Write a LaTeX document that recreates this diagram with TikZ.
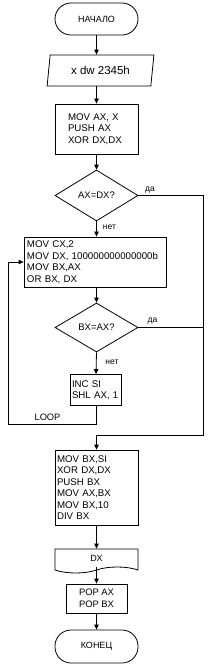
\documentclass[tikz,border=0pt]{standalone}
\usepackage{fontspec}
\setmainfont{Liberation Sans}
\usetikzlibrary{arrows.meta, shapes.geometric, shapes.symbols, positioning}

\tikzset{
  base/.style={draw, line width=0.8pt, font=\fontsize{9.7}{11.5}\selectfont, inner sep=0pt},
  term/.style={base, rectangle, rounded corners=16pt, minimum width=83pt, minimum height=32pt,
    font=\fontsize{9}{11}\selectfont},
  iobox/.style={base, trapezium, trapezium left angle=78, trapezium right angle=102,
    trapezium stretches=true, minimum width=107pt, minimum height=31pt,
    font=\fontsize{11.5}{13}\selectfont},
  proc/.style={base, rectangle, align=left},
  cond/.style={base, diamond, minimum width=83pt, minimum height=51pt,
    font=\fontsize{9.5}{11}\selectfont},
  docbox/.style={base, tape, tape bend top=none, tape bend bottom=in and out,
    tape bend height=6pt, minimum width=83pt, minimum height=24pt,
    font=\fontsize{9}{11}\selectfont},
  lbl/.style={font=\fontsize{8.5}{10}\selectfont, inner sep=0pt},
  flow/.style={line width=0.8pt, -{Triangle[length=5pt,width=4.5pt]}},
  wire/.style={line width=0.8pt},
}

\begin{document}
\begin{tikzpicture}[x=1pt, y=-1pt]
    \useasboundingbox (0,0) rectangle (213,666);

    % Blocks of the flowchart
    \node[term] (start) at (96.5,19) {НАЧАЛО};
    \node[iobox] (io) at (100.5,70.5) {x dw 2345h};
    \node[proc, minimum width=83pt, minimum height=50pt, text width=57pt, inner xsep=13pt] (init) at (96.5,129) {MOV AX, X\\PUSH AX\\XOR DX,DX};
    \node[cond] (chk1) at (96.5,195.5) {AX=DX?};
    \node[proc, minimum width=142pt, minimum height=50pt, text width=136pt, inner xsep=3pt] (body) at (95,262) {MOV CX,2\\MOV DX, 100000000000000b\\MOV BX,AX\\OR BX, DX};
    \node[cond, minimum height=49pt] (chk2) at (96.5,327.5) {BX=AX?};
    \node[proc, minimum width=51pt, minimum height=31pt, text width=48pt, inner xsep=1.5pt] (shift) at (96,390) {INC SI\\SHL AX, 1};
    \node[proc, minimum width=83pt, minimum height=75pt, text width=79pt, inner xsep=2pt] (calc) at (96.5,487.5) {MOV BX,SI\\XOR DX,DX\\PUSH BX\\MOV AX,BX\\MOV BX,10\\DIV BX};
    \node[docbox] (out) at (96.5,558) {DX};
    \node[proc, align=center, minimum width=61pt, minimum height=29pt, font=\fontsize{9.4}{12}\selectfont] (pop) at (96.5,598.5) {POP AX\\POP BX};
    \node[term, minimum height=33pt] (finish) at (96.5,646.5) {КОНЕЦ};

    % Turning points of the side lines
    \coordinate (rt) at (203,435);
    \coordinate (lp) at (8,424);

    % Labels
    \node[lbl] (yes1) at (150,190) {да};
    \node[lbl] (no1) at (109.5,227) {нет};
    \node[lbl] (yes2) at (152.5,321.5) {да};
    \node[lbl] (no2) at (112,362.5) {нет};
    \node[lbl, font=\fontsize{9.3}{11}\selectfont] (loop) at (47.5,417.5) {LOOP};

    % Connectors
    \draw[flow] (start.south) -- (start.south |- io.north);
    \draw[flow] (io.south -| init.north) -- (init.north);
    \draw[flow] (init.south) -- (chk1.north);
    \draw[flow] (chk1.south) -- (chk1.south |- body.north);
    \draw[flow] (chk1.south |- body.south) -- (chk2.north);
    \draw[flow] (chk2.south) -- (shift.north);
    \draw[flow] (chk1.east) -- (chk1.east -| rt) -- (rt) -- (rt -| calc.north) -- (calc.north);
    \draw[wire] (chk2.east) -- (chk2.east -| rt);
    \draw[flow] (shift.south) -- (shift.south |- lp) -- (lp) -- (lp |- body.west) -- (body.west);
    \draw[flow] (calc.south) -- (out.north);
    \draw[flow] (out.south) -- (pop.north);
    \draw[flow] (pop.south) -- (finish.north);
\end{tikzpicture}
\end{document}
